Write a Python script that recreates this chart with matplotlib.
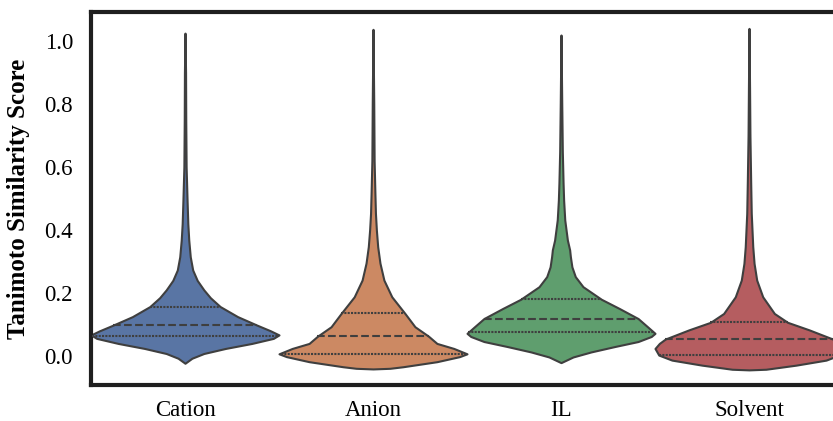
import colorsys
import numpy as np
import matplotlib.pyplot as plt
import matplotlib.colors as mcolors

# categories and colours (seaborn "deep")
categories = ["Cation", "Anion", "IL", "Solvent"]
base_colors = ["#4C72B0", "#DD8452", "#55A868", "#C44E52"]

# violin outlines: score value -> half width (category units)
cation_y = [-0.023, -0.007, 0.008, 0.024, 0.040, 0.056, 0.067, 0.080, 0.098, 0.125, 0.157,
            0.185, 0.210, 0.240, 0.273, 0.315, 0.368, 0.420, 0.495, 0.600, 0.750, 0.900, 1.025]
cation_w = [0.0, 0.037, 0.10, 0.215, 0.356, 0.47, 0.50, 0.455, 0.383, 0.28, 0.187,
            0.135, 0.10, 0.065, 0.041, 0.028, 0.020, 0.015, 0.011, 0.006, 0.004, 0.003, 0.0]

anion_y = [-0.041, -0.039, -0.034, -0.018, -0.002, 0.007, 0.024, 0.040, 0.063, 0.093, 0.135,
           0.188, 0.241, 0.295, 0.347, 0.400, 0.453, 0.520, 0.620, 0.800, 1.037]
anion_w = [0.0, 0.09, 0.16, 0.34, 0.46, 0.50, 0.43, 0.34, 0.295, 0.223, 0.17,
           0.10, 0.058, 0.037, 0.025, 0.018, 0.013, 0.010, 0.006, 0.004, 0.0]

il_y = [-0.021, -0.003, 0.013, 0.030, 0.046, 0.062, 0.072, 0.093, 0.119, 0.151, 0.180,
        0.220, 0.252, 0.283, 0.315, 0.337, 0.368, 0.432, 0.495, 0.550, 0.650, 0.800, 1.019]
il_w = [0.0, 0.064, 0.16, 0.285, 0.41, 0.48, 0.50, 0.46, 0.41, 0.31, 0.215,
        0.117, 0.076, 0.058, 0.050, 0.046, 0.034, 0.020, 0.014, 0.011, 0.007, 0.004, 0.0]

solvent_y = [-0.044, -0.042, -0.029, -0.013, 0.003, 0.024, 0.040, 0.054, 0.083, 0.107, 0.135,
             0.188, 0.241, 0.294, 0.347, 0.453, 0.550, 0.700, 0.850, 1.040]
solvent_w = [0.0, 0.09, 0.25, 0.41, 0.48, 0.50, 0.477, 0.445, 0.32, 0.205, 0.135,
             0.073, 0.041, 0.027, 0.020, 0.012, 0.009, 0.005, 0.003, 0.0]

# quartiles (Q1, median, Q3)
cation_q = [0.065, 0.098, 0.157]
anion_q = [0.005, 0.062, 0.135]
il_q = [0.075, 0.119, 0.180]
solvent_q = [0.003, 0.054, 0.107]

profiles = [(cation_y, cation_w, cation_q), (anion_y, anion_w, anion_q),
            (il_y, il_w, il_q), (solvent_y, solvent_w, solvent_q)]


def desaturate(c, prop=0.75):
    # same thing seaborn does to violin colours
    h, l, s = colorsys.rgb_to_hls(*mcolors.to_rgb(c))
    return colorsys.hls_to_rgb(h, l, s * prop)


colors = [desaturate(c) for c in base_colors]

plt.rcParams['font.family'] = ['Liberation Serif', 'DejaVu Serif']

fig = plt.figure(figsize=(8.33, 4.21), dpi=100)
# the original image is cropped on the right, so the axes run past the figure edge
ax = fig.add_axes([91 / 833, 36 / 421, 752 / 833, 373 / 421])

edge = "#3f3f3f"
lw = 1.5
for i, (yy, ww, qq) in enumerate(profiles):
    yy = np.array(yy)
    ww = np.array(ww)
    ax.fill_betweenx(yy, i - ww, i + ww, facecolor=colors[i], edgecolor=edge,
                     linewidth=lw, zorder=2)
    for k, q in enumerate(qq):
        hw = np.interp(q, yy, ww)
        ls = "--" if k == 1 else (0, (1.0, 0.6))
        ax.plot([i - hw, i + hw], [q, q], color=edge, linestyle=ls, linewidth=lw, zorder=3)

ax.set_xlim(-0.5, 3.5)
ax.set_ylim(-0.092, 1.092)
ax.set_xticks(range(len(categories)))
ax.set_xticklabels(categories)
ax.set_yticks([0.0, 0.2, 0.4, 0.6, 0.8, 1.0])
ax.set_yticklabels(["0.0", "0.2", "0.4", "0.6", "0.8", "1.0"])
ax.tick_params(axis='both', length=0, labelsize=16.5)
ax.tick_params(axis='y', pad=13)
ax.tick_params(axis='x', pad=11)
ax.set_ylabel("Tanimoto Similarity Score", fontsize=18, fontweight='bold', labelpad=10)

for s in ax.spines.values():
    s.set_linewidth(3)
    s.set_color("#1f1f1f")

fig.savefig("out.png", dpi=100)
